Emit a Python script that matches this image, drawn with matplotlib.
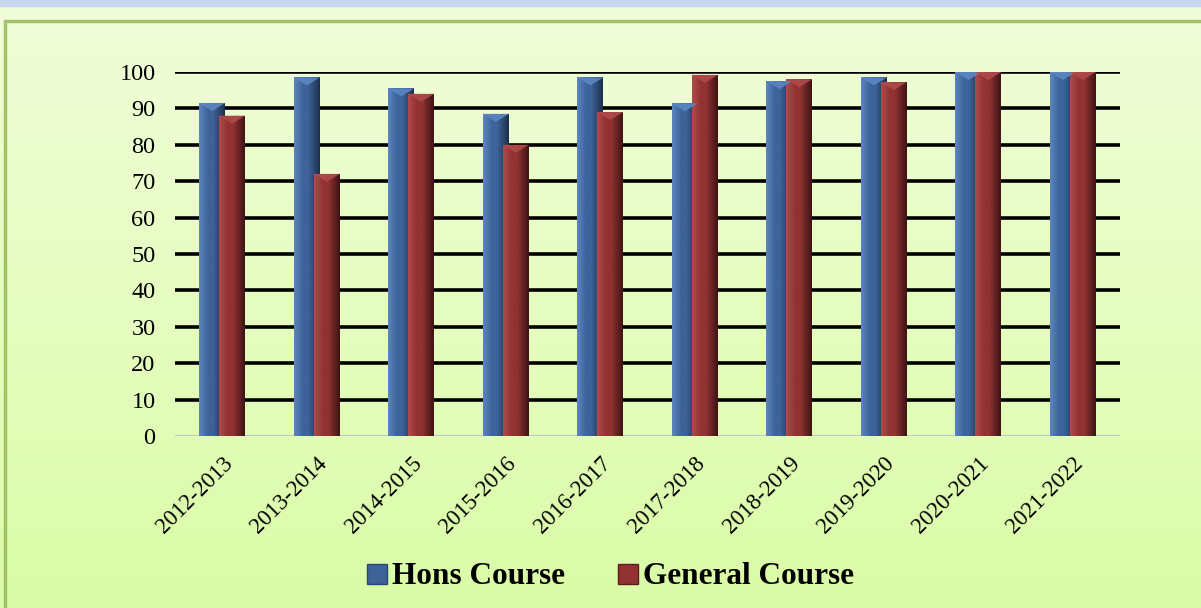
import numpy as np
import matplotlib.pyplot as plt
from matplotlib.patches import Rectangle, Polygon
from matplotlib.lines import Line2D

years = ['2012-2013', '2013-2014', '2014-2015', '2015-2016', '2016-2017',
         '2017-2018', '2018-2019', '2019-2020', '2020-2021', '2021-2022']
hons = [91.5, 98.5, 95.5, 88.5, 98.5, 91.4, 97.5, 98.5, 100, 100]
general = [88, 72, 94, 80, 89, 99.2, 98, 97.2, 100, 100]

blue = '#3d6398'
red = '#923232'
serif = ['Liberation Serif', 'DejaVu Serif']

fig = plt.figure(figsize=(12.01, 6.08), dpi=100)

# background: light green gradient with a thin frame
bg = fig.add_axes([0, 0, 1, 1], zorder=-10)
grad = np.linspace(0, 1, 256).reshape(-1, 1)
top = np.array([0.945, 0.992, 0.855])
bot = np.array([0.855, 0.988, 0.655])
img = top + (bot - top) * grad[..., None]
bg.imshow(img.reshape(256, 1, 3), aspect='auto', extent=[0, 1, 0, 1])
bg.add_patch(Rectangle((0, 0.99), 1, 0.01, color='#c6d9ee', zorder=3))
bg.add_patch(Rectangle((0.004, -0.01), 1.0, 0.975, fill=False,
                       edgecolor='#a3c266', lw=2.5, zorder=4))
bg.set_xlim(0, 1)
bg.set_ylim(0, 1)
bg.axis('off')

ax = fig.add_axes([0.1457, 0.2829, 0.7870, 0.5987])
ax.patch.set_alpha(0)

x = np.arange(len(years))
w = 0.275
off = 0.105


def shaded_bars(xs, vals, base, dark, light):
    cmap_cols = [light, base, base, dark]
    for xi, v in zip(xs, vals):
        r = Rectangle((xi - w / 2, 0), w, v, facecolor=base, edgecolor='none', zorder=3)
        ax.add_patch(r)
        g = np.array([0.0, 0.35, 0.55, 1.0])
        cols = np.array([plt.matplotlib.colors.to_rgb(c) for c in cmap_cols])
        t = np.linspace(0, 1, 64)
        row = np.stack([np.interp(t, g, cols[:, k]) for k in range(3)], axis=-1)
        im = ax.imshow(row.reshape(1, 64, 3), extent=[xi - w / 2, xi + w / 2, 0, v],
                       aspect='auto', zorder=3.1)
        im.set_clip_path(r)
        # bevel cap on top
        cap = 2.2
        tri = Polygon([[xi - w / 2, v], [xi + w / 2, v], [xi, v - cap]],
                      closed=True, facecolor=light, edgecolor='none', zorder=3.2, alpha=0.9)
        ax.add_patch(tri)


shaded_bars(x - off, hons, blue, '#1c2f4c', '#5c86c2')
shaded_bars(x + off, general, red, '#3e1414', '#b04a4a')

ax.set_xlim(-0.5, len(years) - 0.5)
ax.set_ylim(0, 100)
ax.set_yticks(range(0, 101, 10))
for yv in range(10, 101, 10):
    ax.axhline(yv, color='black', lw=2.6, zorder=1)
ax.axhline(0, color='#c8c8c8', lw=1.5, zorder=2)

ax.set_xticks(x)
ax.set_xticklabels(years, rotation=45, ha='right', rotation_mode='anchor',
                   family=serif, fontsize=16.5)
for lab in ax.get_yticklabels():
    lab.set_family(serif)
    lab.set_fontsize(17.5)
ax.tick_params(axis='both', length=0)
ax.tick_params(axis='y', pad=14)
ax.tick_params(axis='x', pad=12)
for s in ax.spines.values():
    s.set_visible(False)

handles = [Line2D([], [], marker='s', ls='none', markersize=14,
                  markerfacecolor=blue, markeredgecolor='#2a4670'),
           Line2D([], [], marker='s', ls='none', markersize=14,
                  markerfacecolor=red, markeredgecolor='#5a1e1e')]
fig.legend(handles, ['Hons Course', 'General Course'], loc='center',
           bbox_to_anchor=(0.506, 0.051), ncol=2, frameon=False,
           prop={'family': serif, 'weight': 'bold', 'size': 22.5},
           handletextpad=0.0, columnspacing=1.5, handlelength=1.0)

fig.savefig('out.png', dpi=100)
